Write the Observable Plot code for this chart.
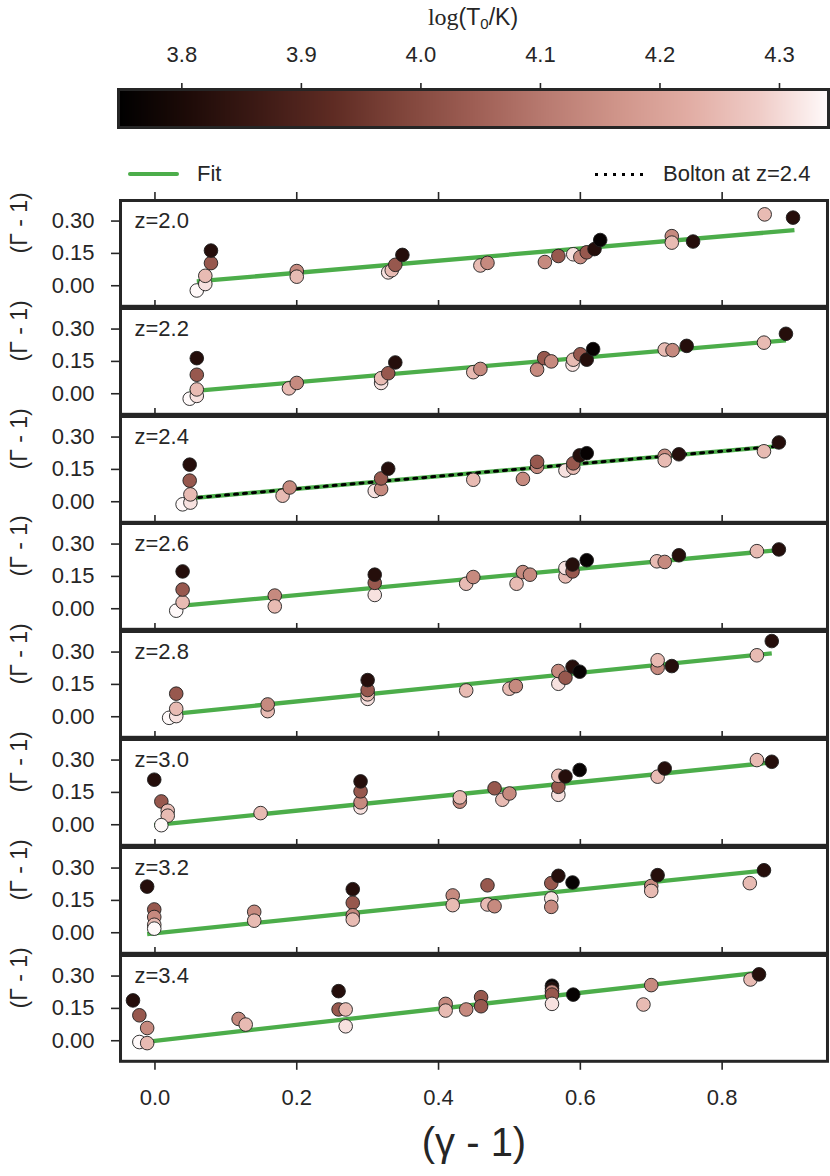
<!DOCTYPE html>
<html><head><meta charset="utf-8">
<script src="https://cdn.jsdelivr.net/npm/d3@7"></script>
<script src="https://cdn.jsdelivr.net/npm/@observablehq/plot@0.6"></script>
<style>
body{margin:0;background:#fff;}
#root{position:relative;width:830px;height:1176px;overflow:hidden;background:#fff;font-family:"Liberation Sans",Arial,sans-serif;color:#262626;}
.abs{position:absolute;}
#root svg{overflow:visible;}
</style></head><body><div id="root"></div>
<script>
// ---- colour bar ----
const cbarDomain = [3.747, 4.341];
const cbarTicks = [3.8, 3.9, 4.0, 4.1, 4.2, 4.3];
const cbarColors = ["#000000","#1e0b08","#3d1a15","#5e2b23","#80453b","#9e5e54","#b87a70","#cf9489","#e1aca3","#efcbc6","#fffafa"];
// ---- axes ----
const xTicks = [0, 0.2, 0.4, 0.6, 0.8];
const yTicks = [0, 0.15, 0.30];
const xDomain = [-0.05, 0.95];
const yDomain = [-0.1, 0.4];
const zLabels = ["z=2.0","z=2.2","z=2.4","z=2.6","z=2.8","z=3.0","z=3.2","z=3.4"];

// ---- points per redshift: (gamma-1), (Gamma-1), log T0 ----
const g20 = [0.059,0.071,0.071,0.079,0.079, 0.200,0.200, 0.329,0.334,0.339,0.349, 0.459,0.469, 0.550,0.569,0.590,0.600,0.609,0.620,0.628, 0.729,0.729,0.759, 0.860,0.900];
const G20 = [-0.022,0.008,0.046,0.105,0.163, 0.068,0.042, 0.062,0.072,0.097,0.143, 0.094,0.106, 0.110,0.138,0.146,0.133,0.155,0.170,0.212, 0.230,0.200,0.205, 0.331,0.316];
const T20 = [4.34,4.31,4.25,4.03,3.82, 4.14,4.25, 4.31,4.25,4.03,3.82, 4.25,4.14, 4.14,4.03,4.31,4.14,4.03,3.82,3.76, 4.14,4.25,3.82, 4.25,3.82];

const g22 = [0.049,0.059,0.059,0.059,0.059, 0.189,0.200, 0.319,0.319,0.329,0.339, 0.449,0.459, 0.539,0.549,0.559,0.589,0.590,0.600,0.609,0.618, 0.719,0.730,0.750, 0.859,0.890];
const G22 = [-0.023,-0.010,0.020,0.088,0.165, 0.025,0.050, 0.050,0.072,0.095,0.145, 0.100,0.115, 0.112,0.165,0.150,0.135,0.158,0.183,0.158,0.207, 0.205,0.202,0.222, 0.237,0.278];
const T22 = [4.34,4.31,4.25,4.03,3.82, 4.25,4.14, 4.31,4.25,4.03,3.82, 4.25,4.14, 4.14,4.03,4.14,4.31,4.25,4.03,3.82,3.76, 4.25,4.14,3.82, 4.25,3.82];

const g24 = [0.039,0.050,0.050,0.049,0.049, 0.180,0.190, 0.310,0.319,0.319,0.329, 0.449, 0.519,0.539,0.539, 0.579,0.590,0.590,0.599,0.609, 0.719,0.719,0.739, 0.859,0.880];
const G24 = [-0.012,-0.004,0.034,0.098,0.172, 0.028,0.066, 0.050,0.059,0.108,0.153, 0.102, 0.106,0.162,0.185, 0.145,0.158,0.178,0.215,0.225, 0.213,0.192,0.220, 0.234,0.275];
const T24 = [4.34,4.31,4.25,4.03,3.82, 4.25,4.14, 4.31,4.14,4.03,3.82, 4.25, 4.14,4.14,4.03, 4.31,4.25,4.03,3.82,3.76, 4.14,4.25,3.82, 4.25,3.82];

const g26 = [0.030,0.039,0.039,0.039, 0.169,0.169, 0.310,0.310,0.310, 0.439,0.449, 0.510,0.519,0.529, 0.579,0.579,0.589,0.589,0.609, 0.708,0.719,0.739, 0.849,0.880];
const G26 = [-0.009,0.030,0.089,0.173, 0.061,0.011, 0.064,0.120,0.158, 0.116,0.147, 0.116,0.170,0.158, 0.150,0.189,0.173,0.205,0.225, 0.220,0.217,0.248, 0.267,0.275];
const T26 = [4.34,4.25,4.03,3.82, 4.14,4.25, 4.31,4.03,3.82, 4.25,4.14, 4.25,4.14,4.14, 4.25,4.31,4.03,3.82,3.76, 4.25,4.14,3.82, 4.25,3.82];

const g28 = [0.020,0.030,0.030,0.030, 0.159,0.159, 0.300,0.300,0.300,0.300, 0.439, 0.500,0.509, 0.569,0.569,0.579,0.589,0.599, 0.709,0.709,0.729, 0.849,0.870];
const G28 = [-0.005,0.003,0.037,0.107, 0.026,0.057, 0.083,0.104,0.124,0.170, 0.122, 0.130,0.142, 0.153,0.212,0.181,0.232,0.209, 0.227,0.262,0.235, 0.285,0.351];
const T28 = [4.34,4.31,4.25,4.03, 4.25,4.14, 4.31,4.25,4.03,3.82, 4.25, 4.25,4.14, 4.31,4.14,4.03,3.82,3.76, 4.14,4.25,3.82, 4.25,3.82];

const g30 = [-0.001,0.009,0.018,0.018,0.009, 0.149, 0.290,0.290,0.290,0.290, 0.430,0.430, 0.479,0.490,0.500, 0.569,0.569,0.569,0.579,0.599, 0.709,0.719, 0.849,0.870];
const G30 = [0.209,0.108,0.065,0.042,-0.002, 0.054, 0.080,0.104,0.155,0.201, 0.107,0.127, 0.169,0.116,0.145, 0.139,0.176,0.227,0.224,0.254, 0.223,0.261, 0.300,0.292];
const T30 = [3.82,4.03,4.25,4.25,4.34, 4.25, 4.31,4.14,4.03,3.82, 4.14,4.25, 4.03,4.25,4.14, 4.31,4.03,4.25,3.82,3.76, 4.25,3.82, 4.25,3.82];

const g32 = [-0.011,-0.001,-0.001,-0.001,-0.001, 0.140,0.140, 0.279,0.279,0.279,0.279, 0.420,0.420, 0.469,0.469,0.479, 0.559,0.559,0.559,0.569,0.589, 0.700,0.700,0.709, 0.839,0.859];
const G32 = [0.214,0.108,0.073,0.037,0.019, 0.097,0.056, 0.202,0.139,0.081,0.061, 0.173,0.128, 0.220,0.131,0.123, 0.230,0.159,0.120,0.264,0.233, 0.217,0.194,0.267, 0.230,0.290];
const T32 = [3.82,4.03,4.14,4.25,4.34, 4.14,4.25, 3.82,4.03,4.14,4.25, 4.14,4.25, 4.03,4.25,4.14, 4.03,4.31,4.14,3.82,3.76, 4.14,4.25,3.82, 4.25,3.82];

const g34 = [-0.031,-0.022,-0.011,-0.022,-0.011, 0.118,0.128, 0.259,0.259,0.269,0.269, 0.410,0.410,0.439, 0.460,0.460, 0.560,0.560,0.560,0.560,0.560, 0.590, 0.700,0.689, 0.840,0.852];
const G34 = [0.187,0.118,0.059,-0.006,-0.011, 0.101,0.075, 0.230,0.145,0.145,0.067, 0.171,0.140,0.145, 0.202,0.160, 0.255,0.242,0.228,0.214,0.171, 0.214, 0.258,0.168, 0.284,0.308];
const T34 = [3.82,4.03,4.14,4.34,4.25, 4.14,4.25, 3.82,4.03,4.25,4.31, 4.14,4.25,4.14, 4.03,4.03, 3.76,3.82,4.14,4.03,4.31, 3.76, 4.14,4.25, 4.25,3.82];

// ---- linear fits (end points) per redshift ----
const fitX1 = [0.059,0.049,0.049,0.039,0.020,-0.001,-0.011,-0.031];
const fitY1 = [0.020,0.011,0.016,0.014,0.011,-0.002,-0.006,-0.012];
const fitX2 = [0.902,0.890,0.880,0.880,0.870,0.870,0.859,0.852];
const fitY2 = [0.258,0.248,0.258,0.272,0.294,0.289,0.288,0.316];
// Bolton relation at z=2.4
const boltonX = [0.049, 0.880];
const boltonY = [0.016, 0.258];

const gs = [g20,g22,g24,g26,g28,g30,g32,g34];
const Gs = [G20,G22,G24,G26,G28,G30,G32,G34];
const Ts = [T20,T22,T24,T26,T28,T30,T32,T34];

const INK = "#262626";
const GREEN = "#4cad4a";
const FONT = "Liberation Sans, Arial, sans-serif";
const cmap = d3.piecewise(d3.interpolateRgb, cbarColors);
const colorOpt = {type: "linear", domain: cbarDomain, interpolate: cmap};
const root = document.getElementById("root");

function place(node, top, left = 0) {
  node.style.position = "absolute";
  node.style.top = top + "px";
  node.style.left = left + "px";
  root.appendChild(node);
}

// title
const title = document.createElement("div");
title.className = "abs";
title.style.cssText = "left:323px;width:300px;top:3px;text-align:center;font-size:23px;line-height:28px;color:#262626;";
title.innerHTML = '<span style="font-family:\'Liberation Serif\',serif;font-size:24px">log</span>(T<sub style="font-size:15px;vertical-align:-4px">0</sub>/K)';
root.appendChild(title);

// colour bar
const cbar = Plot.plot({
  width: 830, height: 128,
  marginTop: 89, marginBottom: 1, marginLeft: 118, marginRight: 2,
  style: {background: "transparent", color: INK, fontFamily: FONT, overflow: "visible"},
  x: {domain: cbarDomain},
  y: {domain: [0, 1], axis: null},
  color: colorOpt,
  marks: [
    Plot.raster({fill: (x, y) => x, x1: cbarDomain[0], x2: cbarDomain[1], y1: 0, y2: 1, width: 708, height: 1, imageRendering: "auto"}),
    Plot.frame({stroke: INK, strokeWidth: 3}),
    Plot.axisX({anchor: "top", ticks: cbarTicks, tickFormat: ".1f", tickSize: 7, tickPadding: 21, fontSize: 22, strokeWidth: 1.6, label: null})
  ]
});
place(cbar, 0);

// legend
const leg = document.createElement("div");
leg.innerHTML =
  '<div class="abs" style="left:128px;top:171.5px;width:51px;height:4.5px;border-radius:2px;background:' + GREEN + '"></div>' +
  '<div class="abs" style="left:197px;top:160px;font-size:22px;line-height:28px;">Fit</div>' +
  '<div class="abs" style="left:595px;top:172.5px;width:48px;height:3px;background:repeating-linear-gradient(to right,#000 0 3px,transparent 3px 9px)"></div>' +
  '<div class="abs" style="left:663px;top:160px;font-size:22px;line-height:28px;white-space:nowrap;">Bolton at z=2.4</div>';
root.appendChild(leg);

// panels
const P0 = 199, H = 107.8, MT = 10;
for (let i = 0; i < 8; i++) {
  const last = i === 7;
  const rows = gs[i].map((x, j) => ({x, y: Gs[i][j], T: Ts[i][j]}));
  const top = P0 + i * H;
  const mb = last ? 1176 - (top + H) : 0;
  const marks = [
    Plot.frame({stroke: INK, strokeWidth: 3, inset: 1}),
    Plot.axisX({anchor: "top", ticks: xTicks, tickSize: 8, tickFormat: () => "", label: null, strokeWidth: 1.6}),
    Plot.axisY({ticks: yTicks, tickFormat: ".2f", tickSize: 8, tickPadding: 17, fontSize: 22, label: null, strokeWidth: 1.6}),
    Plot.text(["(Γ - 1)"], {text: d => d, frameAnchor: "left", dx: -100, rotate: -90, fontSize: 23, fill: INK}),
    Plot.text([zLabels[i]], {text: d => d, frameAnchor: "top-left", dx: 15, dy: 21, textAnchor: "start", lineAnchor: "middle", fontSize: 22, fill: INK}),
    Plot.link([i], {x1: k => fitX1[k], y1: k => fitY1[k], x2: k => fitX2[k], y2: k => fitY2[k], stroke: GREEN, strokeWidth: 4.3})
  ];
  if (i === 2) {
    marks.push(Plot.line(boltonX.map((x, j) => ({x, y: boltonY[j]})), {x: "x", y: "y", stroke: "#000", strokeWidth: 3, strokeDasharray: "3,6"}));
  }
  marks.push(Plot.dot(rows, {x: "x", y: "y", fill: "T", r: 6.8, stroke: "#1e1e1e", strokeWidth: 0.9}));
  if (last) {
    marks.push(Plot.axisX({anchor: "bottom", ticks: xTicks, tickFormat: ".1f", tickSize: 8, tickPadding: 19, fontSize: 22, label: null, strokeWidth: 1.6}));
    marks.push(Plot.text(["(γ - 1)"], {text: d => d, frameAnchor: "bottom", dy: 81, lineAnchor: "middle", fontSize: 40, fill: INK}));
  }
  const p = Plot.plot({
    width: 830, height: MT + H + mb,
    marginTop: MT, marginBottom: mb, marginLeft: 119, marginRight: 2,
    style: {background: "transparent", color: INK, fontFamily: FONT, overflow: "visible"},
    x: {domain: xDomain},
    y: {domain: yDomain},
    color: colorOpt,
    marks
  });
  place(p, top - MT);
}
</script>
</body></html>
